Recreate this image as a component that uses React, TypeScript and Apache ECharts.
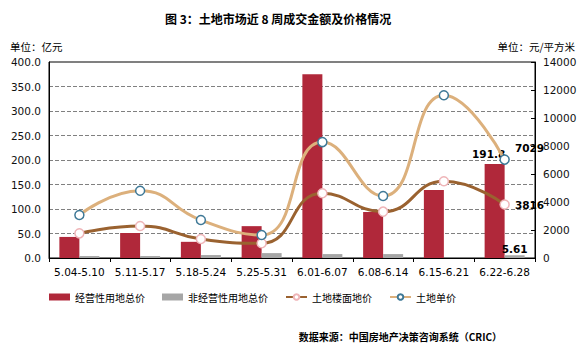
import React, { useEffect, useRef } from "react";
import * as echarts from "echarts";

const categories = ["5.04-5.10", "5.11-5.17", "5.18-5.24", "5.25-5.31", "6.01-6.07", "6.08-6.14", "6.15-6.21", "6.22-6.28"];
const commercialTotal = [43, 51, 33, 65, 375, 94, 139, 191.8];
const nonCommercialTotal = [4, 4, 6, 10, 8, 8, 0, 5.61];
const floorPrice = [1760, 2290, 1360, 1050, 4620, 3310, 5480, 3816];
const unitPrice = [3070, 4800, 2710, 1640, 8280, 4430, 11620, 7029];

const CJK = "'Noto Sans CJK SC', 'Microsoft YaHei', sans-serif";
const NUM = "'DejaVu Sans', Verdana, sans-serif";

function lastLabel(pos: any, offset: number[] = [0, 0]) {
  return {
    show: true,
    position: pos,
    offset,
    fontFamily: NUM,
    fontWeight: "bold",
    fontSize: 10.5,
    color: "#000",
    formatter: (p: any) => (p.dataIndex === categories.length - 1 ? String(p.value) : ""),
  };
}

export default function App() {
  const ref = useRef<HTMLDivElement>(null);
  useEffect(() => {
    const chart = echarts.init(ref.current!, null, { renderer: "svg" });
    chart.setOption({
      animation: false,
      backgroundColor: "#fff",
      title: {
        text: "图 3：土地市场近 8 周成交金额及价格情况",
        left: 160,
        top: 7,
        textStyle: { fontFamily: CJK, fontSize: 12, fontWeight: "bold", color: "#000" },
      },
      graphic: [
        { type: "text", left: 10, top: 41, style: { text: "单位：亿元", font: `10.5px ${CJK}`, fill: "#000" } },
        { type: "text", right: 10, top: 41, style: { text: "单位：元/平方米", font: `10.5px ${CJK}`, fill: "#000" } },
        { type: "text", right: 83, top: 331, style: { text: "数据来源：中国房地产决策咨询系统（CRIC）", font: `bold 10px ${CJK}`, fill: "#000" } },
        { type: "rect", shape: { x: 49, y: 62, width: 486, height: 196 }, style: { fill: "none", stroke: "#000", lineWidth: 1 }, silent: true },
      ],
      legend: {
        top: 287,
        left: 44,
        itemWidth: 21,
        itemHeight: 7,
        itemGap: 17,
        textStyle: { fontFamily: CJK, fontSize: 10, color: "#000" },
        data: [
          { name: "经营性用地总价", icon: "rect" },
          { name: "非经营性用地总价", icon: "rect" },
          { name: "土地楼面地价" },
          { name: "土地单价" },
        ],
      },
      grid: { left: 49, right: 50, top: 62, bottom: 96 },
      xAxis: {
        type: "category",
        data: categories,
        axisLine: { lineStyle: { color: "#000" } },
        axisTick: { show: true, length: 4, lineStyle: { color: "#000" } },
        axisLabel: { fontFamily: NUM, fontSize: 10.5, color: "#000", margin: 8, interval: 0 },
      },
      yAxis: [
        {
          type: "value",
          min: 0,
          max: 400,
          interval: 50,
          axisLine: { show: true, lineStyle: { color: "#000" } },
          axisTick: { show: false },
          axisLabel: { fontFamily: NUM, fontSize: 10.5, color: "#111", formatter: (v: number) => v.toFixed(1) },
          splitLine: { lineStyle: { color: "#808080", type: [4, 2] } },
        },
        {
          type: "value",
          min: 0,
          max: 14000,
          interval: 2000,
          axisLine: { show: true, lineStyle: { color: "#000" } },
          axisTick: { show: true, inside: true, length: 4, lineStyle: { color: "#000" } },
          axisLabel: { fontFamily: NUM, fontSize: 10.5, color: "#111", margin: 8, formatter: (v: number) => String(v) },
          splitLine: { show: false },
        },
      ],
      series: [
        {
          name: "经营性用地总价",
          type: "bar",
          data: commercialTotal,
          barWidth: 20,
          barGap: "0%",
          itemStyle: { color: "#B0283A" },
          label: lastLabel("top", [-6, 0]),
        },
        {
          name: "非经营性用地总价",
          type: "bar",
          data: nonCommercialTotal,
          barWidth: 20,
          barGap: "0%",
          itemStyle: { color: "#A6A6A6" },
          label: lastLabel("top", [0, 4]),
        },
        {
          name: "土地楼面地价",
          type: "line",
          yAxisIndex: 1,
          smooth: true,
          data: floorPrice,
          symbol: "circle",
          symbolSize: 9,
          lineStyle: { color: "#9A6230", width: 3 },
          itemStyle: { color: "#fff", borderColor: "#EFB5B8", borderWidth: 1.5 },
          label: lastLabel("right", [0, 0]),
          z: 3,
        },
        {
          name: "土地单价",
          type: "line",
          yAxisIndex: 1,
          smooth: true,
          data: unitPrice,
          symbol: "circle",
          symbolSize: 9,
          lineStyle: { color: "#DCB07C", width: 3 },
          itemStyle: { color: "#fff", borderColor: "#3E7896", borderWidth: 1.5 },
          label: lastLabel("right", [0, -12]),
          z: 4,
        },
      ],
    });
    return () => chart.dispose();
  }, []);
  return <div ref={ref} style={{ width: 585, height: 354, position: "absolute", left: 0, top: 0 }} />;
}
